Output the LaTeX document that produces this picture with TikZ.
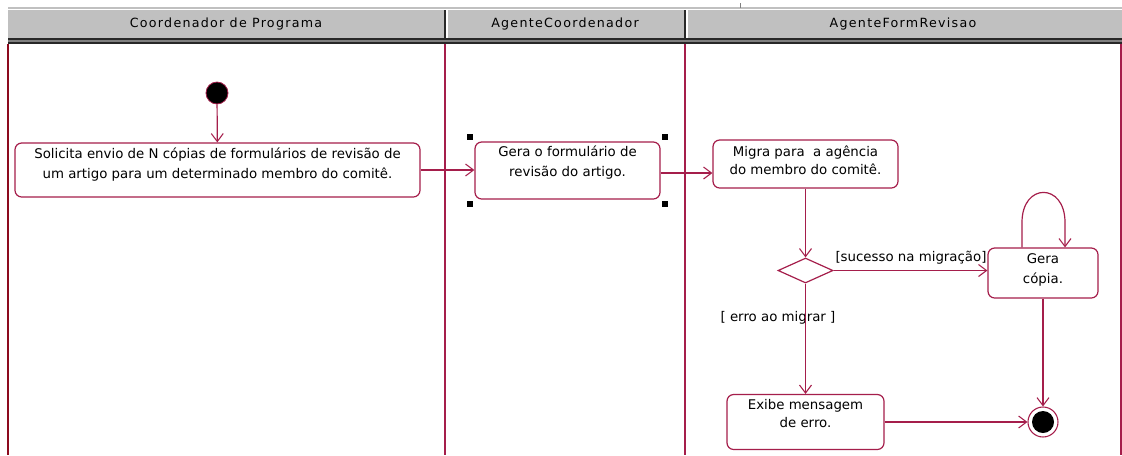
\documentclass[tikz,border=0pt]{standalone}
\usepackage{fontspec}
\setmainfont{DejaVu Sans}
\usetikzlibrary{arrows.meta,shapes.geometric,calc}
\definecolor{uml}{RGB}{165,30,75}
\definecolor{hdr}{RGB}{192,192,192}
\definecolor{hdrdark}{RGB}{40,40,40}
\tikzset{
  actbox/.style={draw=uml, line width=0.9pt, rounded corners=5pt, fill=white, inner sep=0pt},
  acttext/.style={align=center, font=\fontsize{10}{15}\selectfont, inner sep=0pt},
  flow/.style={draw=uml, line width=0.9pt, -{Straight Barb[length=6pt,width=9pt,line width=0.8pt]}},
  lane/.style={draw=uml, line width=0.9pt},
  guard/.style={font=\fontsize{10}{12}\selectfont, inner sep=1pt},
  hdrtext/.style={font=\fontsize{9.5}{11}\selectfont\addfontfeatures{LetterSpace=10}, inner sep=0pt}
}
\begin{document}
\begin{tikzpicture}[x=0.75pt,y=-0.75pt]
\useasboundingbox (0,0) rectangle (1122,455);
\fill[white] (0,0) rectangle (1122,455);
% header
\fill[hdr] (8,7) rectangle (1122,38);
\draw[white, line width=1.2pt] (8,9.5) -- (1122,9.5);
\fill[hdrdark] (8,38) rectangle (1122,40);
\fill[gray] (8,40) rectangle (1122,42);
\fill[hdrdark] (8,42) rectangle (1122,43.5);
\draw[hdrdark, line width=0.9pt] (445,10) -- (445,38);
\draw[white, line width=0.9pt] (447,10) -- (447,38);
\draw[hdrdark, line width=0.9pt] (685,10) -- (685,38);
\draw[white, line width=0.9pt] (687,10) -- (687,38);
\draw[gray, line width=0.6pt] (740,3) -- (740,8);
\node[hdrtext] (h1) at (226,24) {Coordenador de Programa};
\node[hdrtext] (h2) at (565,24) {AgenteCoordenador};
\node[hdrtext] (h3) at (903,24) {AgenteFormRevisao};
% lanes
\draw[line width=1pt, draw={rgb,255:red,140;green,10;blue,30}] (8,43.5) -- (8,455);
\draw[lane] (445,43.5) -- (445,455);
\draw[lane] (685,43.5) -- (685,455);
\draw[lane] (1121,43.5) -- (1121,455);
% nodes
\node[circle, fill=black, draw=uml, line width=0.6pt, minimum size=22*0.75pt, inner sep=0pt] (start) at (217,93) {};
\node[actbox, minimum width=405*0.75pt, minimum height=54*0.75pt] (b1) at (217.5,170) {};
\node[acttext] (t1) at (217.5,165) {Solicita envio de N cópias de formulários de revisão de\\um artigo para um determinado membro do comitê.};
\node[actbox, minimum width=185*0.75pt, minimum height=57*0.75pt] (b2) at (567.5,170.5) {};
\node[acttext] (t2) at (567.5,163) {Gera o formulário de\\revisão do artigo.};
\node[actbox, minimum width=185*0.75pt, minimum height=48*0.75pt] (b3) at (805.5,164) {};
\node[acttext, font=\fontsize{10}{13.5}\selectfont] (t3) at (805.5,160.5) {Migra para\ \ a agência\\do membro do comitê.};
\node[diamond, draw=uml, line width=0.9pt, minimum width=55*0.75pt, minimum height=25*0.75pt, inner sep=0pt, aspect=2.2] (d) at (805.5,270.5) {};
\node[actbox, minimum width=110*0.75pt, minimum height=50*0.75pt] (b4) at (1043,273) {};
\node[acttext] (t4) at (1043,270) {Gera\\cópia.};
\node[actbox, minimum width=157*0.75pt, minimum height=55*0.75pt] (b5) at (805.5,422) {};
\node[acttext, font=\fontsize{10}{13.5}\selectfont] (t5) at (805.5,414) {Exibe mensagem\\de erro.};
\node[circle, draw=uml, line width=0.8pt, minimum size=30*0.75pt, inner sep=0pt] (fin) at (1043,422) {};
\node[circle, fill=black, minimum size=22*0.75pt, inner sep=0pt] (finc) at (1043,422) {};
% selection handles
\foreach \p in {(470,137),(665,137),(470,204),(665,204)}
  \fill[black] \p ++(-3,-3) rectangle ++(6,6);
% guards
\node[guard] (g1) at (911,258) {[sucesso na migração]};
\node[guard] (g2) at (778,318) {[ erro ao migrar ]};
% flows
\draw[flow] (start) -- (b1);
\draw[flow] (b1.east) -- (b1.east -| b2.west);
\draw[flow] ([yshift=-2.5*0.75pt]b2.east) -- ([yshift=-2.5*0.75pt]b2.east -| b3.west);
\draw[flow] (b3) -- (d);
\draw[flow] (d.east) -- (d.east -| b4.west);
\draw[flow] (d) -- (b5);
\draw[flow] (b4) -- (fin);
\draw[flow] (b5.east) -- (fin);
\draw[flow] ($(b4.north)+(-21,0)$) -- ++(0,-25) .. controls ++(0,-40) and ++(0,-40) .. ($(b4.north)+(22,-25)$) -- ($(b4.north)+(22,0)$);
\end{tikzpicture}
\end{document}
